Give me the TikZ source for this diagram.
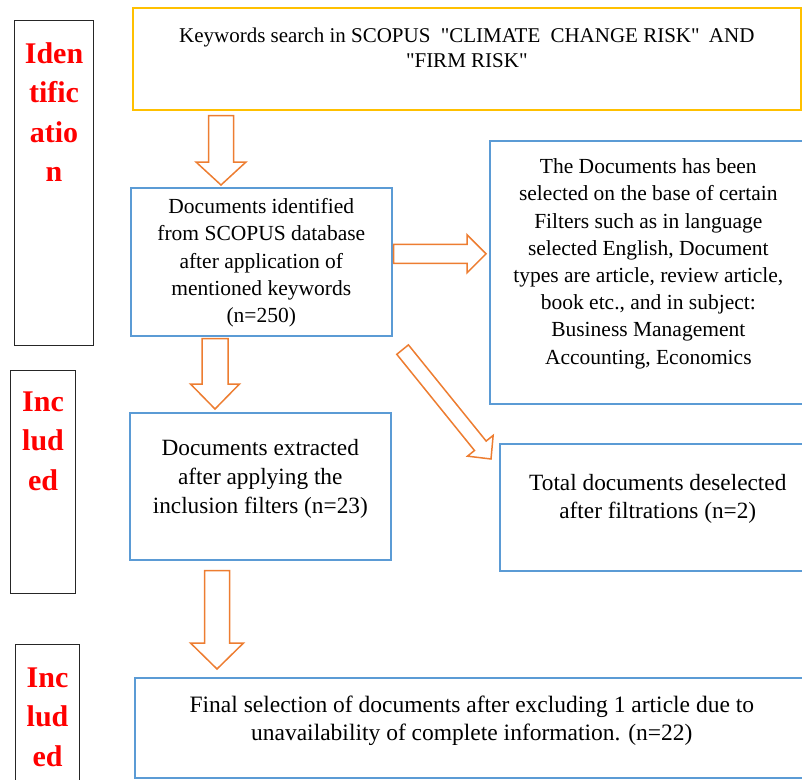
\documentclass[tikz,border=0pt]{standalone}
\usepackage{fontspec}
\setmainfont{Liberation Serif}[Ligatures=TeXOff]
\usetikzlibrary{calc}
\definecolor{boxblue}{HTML}{5B9BD5}
\definecolor{boxgold}{HTML}{FFC000}
\definecolor{arrorange}{HTML}{ED7D31}
\definecolor{sidegray}{HTML}{262626}
\tikzset{
  box/.style={rectangle, draw=boxblue, line width=1.6pt, inner sep=0pt, anchor=north west},
  sidebox/.style={rectangle, draw=sidegray, line width=1.1pt, inner sep=0pt, anchor=north west},
  txt/.style={align=center, inner sep=0pt, font=\fontsize{21.5}{27.2}\selectfont},
  sidetxt/.style={align=center, inner sep=0pt, text=red, font=\bfseries\fontsize{30}{39.5}\selectfont},
  fat/.style={draw=arrorange, line width=1.5pt, fill=white}
}
% hollow block arrow: start, end, shaft width, head width, head length
\newcommand\fatarrow[5]{%
  \coordinate (hb) at ($(#2)!#5pt!(#1)$);
  \draw[fat] ($(#1)!.5*#3pt!90:(#2)$) -- ($(hb)!.5*#3pt!90:(#2)$) -- ($(hb)!.5*#4pt!90:(#2)$)
    -- (#2) -- ($(hb)!.5*#4pt!-90:(#2)$) -- ($(hb)!.5*#3pt!-90:(#2)$) -- ($(#1)!.5*#3pt!-90:(#2)$) -- cycle;}
\begin{document}
\begin{tikzpicture}[x=1pt, y=-1pt]
  \clip (0,0) rectangle (802,779);
  % stage boxes on the left
  \node[sidebox, minimum width=79pt, minimum height=325pt] (idbox) at (14,20) {};
  \node[sidebox, minimum width=65pt, minimum height=223pt] (inbox1) at (10,370) {};
  \node[sidebox, minimum width=64pt, minimum height=150pt] (inbox2) at (15,644) {};
  \node[sidetxt] (idlab) at ($(idbox.north)+(0,92)$) {Iden\\tific\\atio\\n};
  \node[sidetxt] (inlab1) at ($(inbox1.north)+(0,71)$) {Inc\\lud\\ed};
  \node[sidetxt] (inlab2) at ($(inbox2.north)+(0,73)$) {Inc\\lud\\ed};
  % flow boxes
  \node[box, draw=boxgold, minimum width=668pt, minimum height=102pt] (kw) at (132,7) {};
  \node[box, minimum width=261pt, minimum height=148pt] (ident) at (130,187) {};
  \node[box, minimum width=317pt, minimum height=263pt] (filt) at (489,140) {};
  \node[box, minimum width=261pt, minimum height=147pt] (extr) at (129,412) {};
  \node[box, minimum width=316pt, minimum height=127pt] (desel) at (499,443) {};
  \node[box, minimum width=674pt, minimum height=100pt] (final) at (134,677) {};
  \node[txt, font=\fontsize{21}{25}\selectfont] (kwtext) at ($(kw.center)+(0,-10.5)$)
    {Keywords search in SCOPUS\hspace{5pt} "CLIMATE\hspace{5pt} CHANGE RISK"\hspace{4pt} AND\\"FIRM RISK"};
  \node[txt] (identtext) at ($(ident.center)+(0,1)$)
    {Documents identified\\from SCOPUS database\\after application of\\mentioned keywords\\(n=250)};
  \node[txt] (filttext) at ($(filt.center)+(0,-8.5)$)
    {The Documents has been\\selected on the base of certain\\Filters such as in language\\selected English, Document\\types are article, review article,\\book etc., and in subject:\\Business Management\\Accounting, Economics};
  \node[txt, font=\fontsize{23.3}{29}\selectfont] (extrtext) at ($(extr.center)+(0,-7.5)$)
    {Documents extracted\\after applying the\\inclusion filters (n=23)};
  \node[txt, font=\fontsize{23.3}{28}\selectfont] (deseltext) at ($(desel.center)+(0,-8.5)$)
    {Total documents deselected\\after filtrations (n=2)};
  \node[txt, font=\fontsize{23.5}{28}\selectfont] (finaltext) at ($(final.center)+(0,-7)$)
    {Final selection of documents after excluding 1 article due to\\unavailability of complete information. (n=22)};
  % block arrows
  \coordinate (a1s) at ($(kw.south west)+(89,5)$);
  \coordinate (a1e) at ($(ident.north west)+(91,-2)$);
  \coordinate (a2s) at ($(ident.east)+(1,-8)$);
  \coordinate (a2e) at ($(a2s -| filt.west)+(-3,0)$);
  \coordinate (a3s) at ($(ident.south east)+(10,13)$);
  \coordinate (a3e) at ($(desel.north west)+(-8,16)$);
  \coordinate (a4s) at ($(ident.south west)+(85,2)$);
  \coordinate (a4e) at ($(extr.north west)+(86,-3)$);
  \coordinate (a5s) at ($(extr.south west)+(88,10)$);
  \coordinate (a5e) at ($(final.north west)+(83,-8)$);
  \fatarrow{a1s}{a1e}{25}{50}{23}
  \fatarrow{a2s}{a2e}{19}{38}{19}
  \fatarrow{a3s}{a3e}{15}{33}{17}
  \fatarrow{a4s}{a4e}{26}{49}{25}
  \fatarrow{a5s}{a5e}{25}{53}{26}
\end{tikzpicture}
\end{document}
